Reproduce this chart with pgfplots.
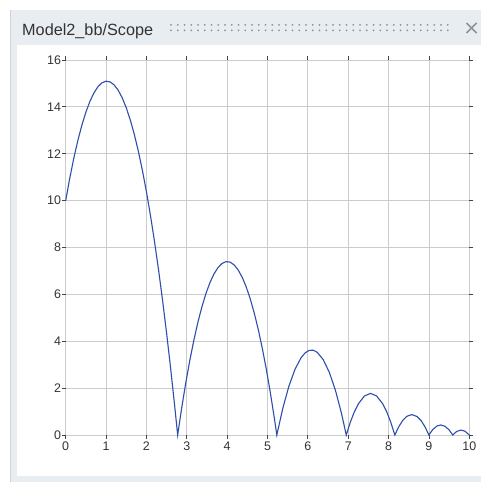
\documentclass[border=0pt]{standalone}
\usepackage{fontspec}
\setmainfont{Liberation Sans}
\usepackage{pgfplots}
\pgfplotsset{compat=1.18}
\definecolor{barbg}{HTML}{E8EDF1}
\definecolor{bordc}{HTML}{CDD5DB}
\definecolor{textc}{HTML}{333333}
\definecolor{dotc}{HTML}{8E9398}
\definecolor{gridc}{HTML}{CCCCCC}
\definecolor{tickc}{HTML}{444444}
\definecolor{linec}{HTML}{2E4FA8}
\begin{document}
\begin{tikzpicture}
\begin{scope}[x=1bp,y=1bp]
\useasboundingbox (0,0) rectangle (481,482);
\fill[white] (0,0) rectangle (481,482);
\fill[barbg] (10,0) rectangle (481,472);
\fill[white] (17,6) rectangle (481,437);
\draw[bordc, line width=1bp] (10.5,0) -- (10.5,472);
\node[anchor=base west, font=\fontsize{16.3}{19}\selectfont, text=textc, inner sep=0] at (22,446) {Model2\_bb/Scope};
\foreach \i in {0,...,41} {
  \fill[dotc] ({171+6.75*\i},457) circle (1.0);
  \fill[dotc] ({171+6.75*\i},451.5) circle (1.0);
}
\draw[dotc, line width=1.6bp] (466.5,449) -- (476.5,459) (466.5,459) -- (476.5,449);
\end{scope}
\begin{axis}[
  at={(65.7bp,47bp)}, anchor=south west,
  scale only axis, width=403.6bp, height=375bp,
  xmin=0, xmax=10, ymin=0, ymax=16,
  xtick={0,1,...,10}, ytick={0,2,...,16},
  grid=major, grid style={draw=gridc, line width=0.8bp},
  axis line style={draw=none},
  tick align=outside, major tick length=4bp,
  tick style={draw=tickc, line width=0.8bp},
  ticklabel style={font=\fontsize{12.5}{14}\selectfont, text=textc},
  yticklabel style={inner sep=0pt, xshift=-0.5bp},
  xticklabel style={inner sep=0pt, yshift=-3bp},
  /pgf/number format/assume math mode=true,
  clip=false,
]
\addplot[linec, line width=1.1bp] coordinates {
(0,10) (0.1,10.951) (0.2,11.804) (0.3,12.559) (0.4,13.215) (0.5,13.774) (0.6,14.234) (0.7,14.597) (0.8,14.861) (0.9,15.027) (1.0,15.095) (1.1,15.065) (1.2,14.937) (1.3,14.711) (1.4,14.386) (1.5,13.964) (1.6,13.443) (1.7,12.825) (1.8,12.108) (1.9,11.293) (2.0,10.38) (2.1,9.369) (2.2,8.26) (2.3,7.053) (2.4,5.747) (2.5,4.344) (2.6,2.842) (2.7,1.243) (2.774,0)
(2.874,1.156) (2.974,2.214) (3.074,3.174) (3.174,4.035) (3.274,4.799) (3.374,5.464) (3.474,6.032) (3.574,6.501) (3.674,6.872) (3.774,7.145) (3.874,7.32) (3.974,7.397) (4.074,7.376) (4.174,7.256) (4.274,7.039) (4.374,6.723) (4.474,6.31) (4.574,5.798) (4.674,5.188) (4.774,4.48) (4.874,3.674) (4.974,2.77) (5.074,1.768) (5.174,0.667) (5.231,0)
(5.381,1.155) (5.531,2.089) (5.681,2.803) (5.831,3.295) (5.931,3.502) (6.031,3.609) (6.131,3.619) (6.231,3.53) (6.381,3.213) (6.531,2.677) (6.681,1.918) (6.831,0.939) (6.951,0)
(7.051,0.541) (7.151,0.985) (7.251,1.330) (7.401,1.664) (7.551,1.776) (7.701,1.669) (7.851,1.341) (7.951,0.999) (8.051,0.559) (8.155,0)
(8.255,0.364) (8.355,0.631) (8.455,0.799) (8.575,0.871) (8.705,0.789) (8.805,0.614) (8.905,0.341) (8.998,0)
(9.098,0.240) (9.198,0.383) (9.293,0.427) (9.398,0.372) (9.498,0.221) (9.588,0)
(9.688,0.153) (9.788,0.209) (9.888,0.166) (10.0,0)
};
\end{axis}
\end{tikzpicture}
\end{document}
